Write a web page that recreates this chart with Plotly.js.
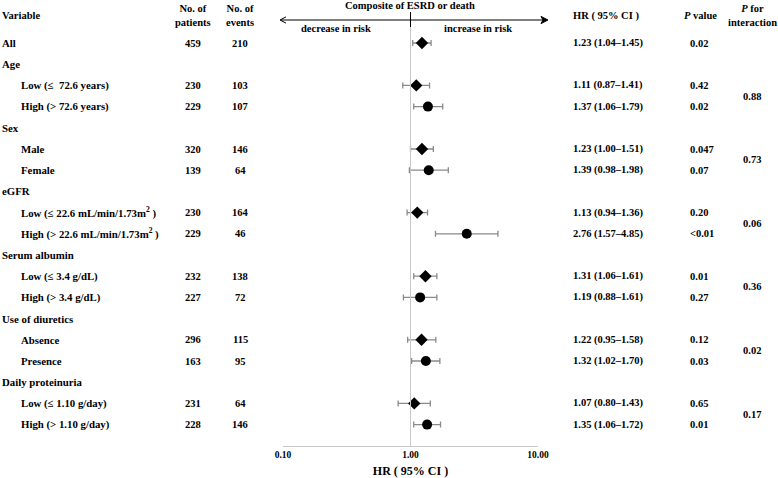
<!DOCTYPE html>
<html>
<head>
<meta charset="utf-8">
<script src="https://cdn.plot.ly/plotly-3.0.1.min.js"></script>
<style>body{margin:0;background:#fff;}#plot{width:778px;height:478px;}</style>
</head>
<body>
<div id="plot"></div>
<script>
var labels = ['All', 'Age', 'Low (\u2264  72.6 years)', 'High (> 72.6 years)', 'Sex', 'Male', 'Female',
    'eGFR', 'Low (\u2264 22.6 mL/min/1.73m<sup>2</sup> )', 'High (> 22.6 mL/min/1.73m<sup>2</sup> )',
    'Serum albumin', 'Low (\u2264 3.4 g/dL)', 'High (> 3.4 g/dL)',
    'Use of diuretics', 'Absence', 'Presence',
    'Daily proteinuria', 'Low (\u2264 1.10 g/day)', 'High (> 1.10 g/day)'];
var isSub = [0, 0, 1, 1, 0, 1, 1, 0, 1, 1, 0, 1, 1, 0, 1, 1, 0, 1, 1];
var patients = [459, null, 230, 229, null, 320, 139, null, 230, 229, null, 232, 227, null, 296, 163, null, 231, 228];
var events = [210, null, 103, 107, null, 146, 64, null, 164, 46, null, 138, 72, null, 115, 95, null, 64, 146];
var hr = [1.23, null, 1.11, 1.37, null, 1.23, 1.39, null, 1.13, 2.76, null, 1.31, 1.19, null, 1.22, 1.32, null, 1.07, 1.35];
var lo = [1.04, null, 0.87, 1.06, null, 1.00, 0.98, null, 0.94, 1.57, null, 1.06, 0.88, null, 0.95, 1.02, null, 0.80, 1.06];
var hi = [1.45, null, 1.41, 1.79, null, 1.51, 1.98, null, 1.36, 4.85, null, 1.61, 1.61, null, 1.58, 1.70, null, 1.43, 1.72];
var pval = ['0.02', '', '0.42', '0.02', '', '0.047', '0.07', '', '0.20', '<0.01', '', '0.01', '0.27', '', '0.12', '0.03', '', '0.65', '0.01'];
var symbols = ['diamond', null, 'diamond', 'circle', null, 'diamond', 'circle', null, 'diamond', 'circle', null, 'diamond', 'circle', null, 'diamond', 'circle', null, 'diamond', 'circle'];
var pInteraction = ['0.88', '0.73', '0.06', '0.36', '0.02', '0.17'];
var interactionRows = [[2, 3], [5, 6], [8, 9], [11, 12], [14, 15], [17, 18]];
var xTicks = [0.1, 1, 10];
var xTickText = ['0.10', '1.00', '10.00'];

var W = 778, H = 478, plotH = 446;
var SERIF = 'Liberation Serif, Times New Roman, serif';
function px(p) { return p / W; }
function py(p) { return 1 - p / plotH; }

var xs = [], ys = [], up = [], down = [], sym = [], sz = [];
hr.forEach(function (v, i) {
    if (v === null) return;
    xs.push(v); ys.push(i);
    up.push(hi[i] - v); down.push(v - lo[i]);
    sym.push(symbols[i]); sz.push(symbols[i] === 'circle' ? 10 : 9.5);
});

var trace = {
    x: xs, y: ys, type: 'scatter', mode: 'markers',
    marker: { color: '#000', symbol: sym, size: sz, opacity: 1, line: { width: 0 } },
    error_x: { type: 'data', symmetric: false, array: up, arrayminus: down,
        color: '#8a8a8a', thickness: 1.3, width: 3 },
    hoverinfo: 'skip'
};

var ann = [];
function t(text, x, y, anchor, yref, size) {
    ann.push({ text: '<b>' + text + '</b>', x: x, y: y, xref: 'paper', yref: yref || 'y',
        xanchor: anchor || 'left', yanchor: 'middle', showarrow: false,
        font: { family: SERIF, size: size || 10.5, color: '#000' } });
}

labels.forEach(function (lab, i) {
    t(lab, isSub[i] ? px(19) : px(0), i, 'left', 'y', 10.8);
    if (patients[i] !== null) t(String(patients[i]), px(193), i, 'center');
    if (events[i] !== null) t(String(events[i]), px(240), i, 'center');
    if (hr[i] !== null) {
        t(hr[i].toFixed(2) + ' (' + lo[i].toFixed(2) + '\u2013' + hi[i].toFixed(2) + ')', px(571), i, 'left');
        t(pval[i].replace('<', '&lt;'), px(688), i, 'left');
    }
});
pInteraction.forEach(function (p, k) {
    var r = interactionRows[k];
    t(p, px(752), (r[0] + r[1]) / 2, 'center');
});

// headers
t('Variable', px(0), py(16), 'left', 'paper');
t('No. of<br>patients', px(193), py(16), 'center', 'paper');
t('No. of<br>events', px(240), py(16), 'center', 'paper');
t('Composite of ESRD or death', px(410), py(5), 'center', 'paper');
t('decrease in risk', px(336), py(29), 'center', 'paper');
t('increase in risk', px(478), py(29), 'center', 'paper');
t('HR ( 95% CI )', px(571), py(16), 'left', 'paper');
t('<i>P</i> value', px(700), py(16), 'center', 'paper');
t('<i>P</i> for<br>interaction', px(752), py(16), 'center', 'paper');

var ay = py(20), ah = 2.4 / plotH;
var layout = {
    width: W, height: H,
    margin: { l: 0, r: 0, t: 0, b: H - plotH },
    paper_bgcolor: '#fff', plot_bgcolor: '#fff',
    showlegend: false,
    font: { family: SERIF, color: '#000', size: 10.5 },
    xaxis: {
        type: 'log', domain: [px(283), px(538)], range: [-1, 1],
        tickvals: xTicks, ticktext: xTickText.map(function (s) { return '<b>' + s + '</b>'; }),
        tickfont: { family: SERIF, size: 9.5, color: '#000' }, showgrid: false, zeroline: false,
        showline: true, linecolor: '#c8c8c8', linewidth: 1,
        ticks: 'inside', ticklen: 4, tickcolor: '#c8c8c8',
        title: { text: '<b>HR ( 95% CI )</b>', font: { family: SERIF, size: 12, color: '#000' }, standoff: 9 }
    },
    yaxis: { visible: false, range: [(plotH - 43) / 21.2, -43 / 21.2] },
    shapes: [
        { type: 'line', xref: 'x', yref: 'paper', x0: 1, x1: 1, y0: 0, y1: py(27),
            line: { color: '#c8c8c8', width: 1 } },
        { type: 'line', xref: 'x', yref: 'paper', x0: 1, x1: 1, y0: py(27), y1: py(12),
            line: { color: '#000', width: 1 } },
        // double-headed arrow across the top
        { type: 'line', xref: 'paper', yref: 'paper', x0: px(281), x1: px(546), y0: ay, y1: ay,
            line: { color: '#000', width: 1 } },
        { type: 'path', xref: 'paper', yref: 'paper',
            path: 'M' + px(548) + ',' + ay + ' L' + px(541) + ',' + (ay + 1.5 * ah) + ' L' + px(543) + ',' + ay +
                ' L' + px(541) + ',' + (ay - 1.5 * ah) + ' Z',
            fillcolor: '#000', line: { color: '#000', width: 1 } },
        { type: 'path', xref: 'paper', yref: 'paper',
            path: 'M' + px(286) + ',' + (ay + 1.3 * ah) + ' L' + px(280) + ',' + ay + ' L' + px(286) + ',' + (ay - 1.3 * ah),
            line: { color: '#000', width: 1 } }
    ],
    annotations: ann
};

Plotly.newPlot('plot', [trace], layout, { displayModeBar: false, staticPlot: true });
</script>
</body>
</html>
